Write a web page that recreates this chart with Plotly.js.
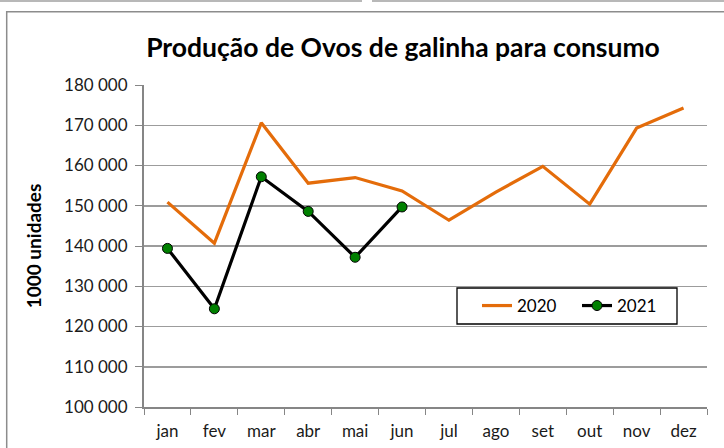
<!DOCTYPE html>
<html>
<head>
<meta charset="utf-8">
<script src="https://cdn.plot.ly/plotly-3.0.1.min.js"></script>
<style>
html,body{margin:0;padding:0;background:#fff;}
#chart{width:724px;height:448px;}
</style>
</head>
<body>
<div id="chart"></div>
<script>
var months = ['jan','fev','mar','abr','mai','jun','jul','ago','set','out','nov','dez'];
var values2020 = [150900, 140700, 170600, 155600, 157000, 153700, 146400, 153400, 159800, 150400, 169300, 174300];
var months2021 = ['jan','fev','mar','abr','mai','jun'];
var values2021 = [139400, 124400, 157200, 148600, 137200, 149700];
var yTicks = [100000, 110000, 120000, 130000, 140000, 150000, 160000, 170000, 180000];

var W = 724, H = 448;
var L = 144, R = 17, T = 85, B = 41;
var pw = W - L - R, ph = H - T - B;
function px(x){ return (x - L) / pw; }
function py(y){ return (H - B - y) / ph; }

var font = 'Lato, "Open Sans", sans-serif';

var traces = [
  {
    x: months, y: values2020, name: '2020', type: 'scatter', mode: 'lines',
    line: {color: '#E46C0A', width: 3.2}
  },
  {
    x: months2021, y: values2021, name: '2021', type: 'scatter', mode: 'lines+markers',
    line: {color: '#000000', width: 3.2},
    marker: {color: '#008000', size: 10, line: {color: '#000000', width: 1}}
  }
];

var layout = {
  width: W, height: H,
  margin: {l: L, r: R, t: T, b: B, autoexpand: false},
  paper_bgcolor: '#ffffff', plot_bgcolor: '#ffffff',
  separators: ', ',
  font: {family: font, size: 17, color: '#1a1a1a'},
  title: {
    text: '<b>Produção de Ovos de galinha para consumo</b>',
    font: {family: font, size: 26.5, color: '#000000'},
    x: 403 / W, xanchor: 'center', xref: 'container',
    y: 1 - 48 / H, yanchor: 'middle', yref: 'container'
  },
  xaxis: {
    type: 'category', categoryorder: 'array', categoryarray: months,
    range: [-0.5, 11.5],
    showline: true, linecolor: '#868686', linewidth: 2,
    showgrid: false, zeroline: false,
    ticks: 'outside', tickson: 'boundaries', ticklen: 6, tickcolor: '#868686', tickwidth: 1,
    ticklabelstandoff: 8,
    tickfont: {family: font, size: 17, color: '#1a1a1a'},
    fixedrange: true
  },
  yaxis: {
    range: [100000, 180000], tickvals: yTicks, tickformat: ',d',
    showline: true, linecolor: '#868686', linewidth: 2,
    showgrid: true, gridcolor: '#9c9c9c', gridwidth: 1.5, zeroline: false,
    ticks: 'outside', ticklen: 7, tickcolor: '#868686', tickwidth: 1,
    ticklabelstandoff: 4,
    tickfont: {family: font, size: 17, color: '#1a1a1a'},
    title: {text: '<b>1000 unidades</b>', font: {family: font, size: 19, color: '#000000'}, standoff: 17},
    fixedrange: true
  },
  showlegend: true,
  legend: {
    orientation: 'h',
    x: px(477), y: py(306), xanchor: 'left', yanchor: 'middle',
    bgcolor: 'rgba(0,0,0,0)', borderwidth: 0,
    font: {family: font, size: 17, color: '#000000'},
    entrywidth: 55, entrywidthmode: 'pixels'
  },
  shapes: [
    {type: 'rect', xref: 'paper', yref: 'paper', x0: px(6.7), x1: px(740), y0: py(11.7), y1: py(470),
     line: {color: '#8c8c8c', width: 1.5}, layer: 'below'},
    {type: 'line', xref: 'paper', yref: 'paper', x0: px(0), x1: px(362), y0: py(1), y1: py(1),
     line: {color: '#a0a0a0', width: 1.5}},
    {type: 'line', xref: 'paper', yref: 'paper', x0: px(372), x1: px(730), y0: py(1), y1: py(1),
     line: {color: '#a0a0a0', width: 1.5}},
    {type: 'rect', xref: 'paper', yref: 'paper', x0: px(457), x1: px(677), y0: py(288), y1: py(324),
     line: {color: '#000000', width: 1.3}, fillcolor: '#ffffff', layer: 'above'}
  ]
};

Plotly.newPlot('chart', traces, layout, {displayModeBar: false, staticPlot: true});
</script>
</body>
</html>
